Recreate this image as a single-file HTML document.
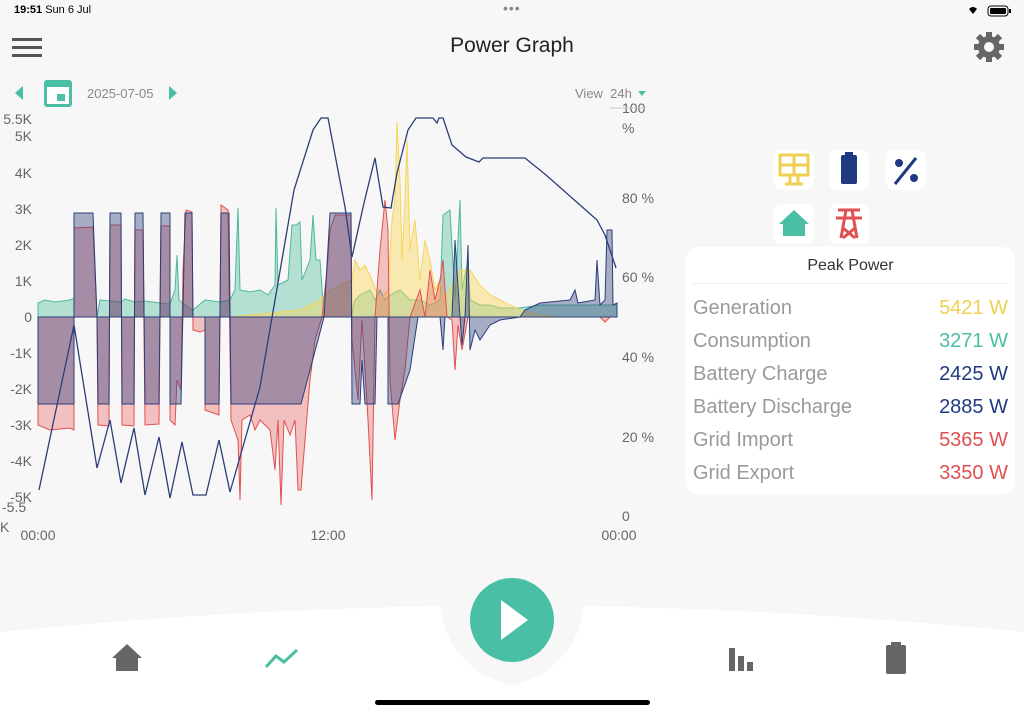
<!DOCTYPE html>
<html><head><meta charset="utf-8"><style>
body{margin:0;width:1024px;height:712px;background:#f7f7f7;font-family:"Liberation Sans",sans-serif;overflow:hidden;position:relative}
.abs{position:absolute}
.card{position:absolute;left:686px;top:247px;width:329px;height:247px;background:#fff;border-radius:12px}
.row{position:absolute;left:7px;right:7px;font-size:20px;color:#9a9a9a;height:28px}
.row span{position:absolute;right:0}
.ic{position:absolute;width:40px;height:40px;background:#fff;border-radius:8px}
</style></head><body>
<div class="abs" style="left:14px;top:4px;font-size:11px;color:#000;font-weight:bold">19:51 <span style="font-weight:normal">Sun 6 Jul</span></div>
<div class="abs" style="left:503px;top:0px;font-size:14px;color:#888;letter-spacing:1px">•••</div>
<svg class="abs" style="left:968px;top:4px" width="46" height="14"><path d="M5 10 L1 5 Q5 1 9 5 Z" fill="#000"/><rect x="20" y="2" width="20" height="10" rx="3" fill="none" stroke="#000"/><rect x="22" y="4" width="16" height="6" rx="1" fill="#000"/><rect x="41" y="5" width="2" height="4" fill="#000"/></svg>
<svg class="abs" style="left:12px;top:37px" width="30" height="22"><rect y="1" width="30" height="3" fill="#555"/><rect y="9" width="30" height="3" fill="#555"/><rect y="17" width="30" height="3" fill="#555"/></svg>
<div class="abs" style="left:0;width:1024px;top:34px;text-align:center;font-size:21px;color:#222">Power Graph</div>
<svg class="abs" style="left:972px;top:30px" width="34" height="34" viewBox="0 0 34 34"><circle cx="17" cy="17" r="11" fill="#666"/><g stroke="#666" stroke-width="6"><line x1="17" y1="2" x2="17" y2="32"/><line x1="2" y1="17" x2="32" y2="17"/><line x1="6" y1="6" x2="28" y2="28"/><line x1="28" y1="6" x2="6" y2="28"/></g><circle cx="17" cy="17" r="5" fill="#f7f7f7"/></svg>
<svg class="abs" style="left:12px;top:76px" width="170" height="34"><path d="M3 17 L11 10 L11 24 Z" fill="#4bbfa5"/><rect x="32" y="4" width="28" height="27" rx="3" fill="#4bbfa5"/><rect x="35" y="11" width="22" height="17" fill="#fff"/><rect x="45" y="18" width="8" height="7" fill="#4bbfa5"/><path d="M157 10 L165 17 L157 24 Z" fill="#4bbfa5"/></svg>
<div class="abs" style="left:87px;top:86px;font-size:13px;color:#888">2025-07-05</div>
<div class="abs" style="left:575px;top:86px;font-size:13px;color:#888">View &nbsp;24h</div>
<svg class="abs" style="left:638px;top:91px" width="10" height="6"><path d="M0 0 L8 0 L4 5 Z" fill="#4bbfa5"/></svg>
<svg class="abs" style="left:0;top:0" width="680" height="550">
<g font-size="14" fill="#666" font-family="Liberation Sans,sans-serif">
<text x="32" y="124" text-anchor="end">5.5K</text><text x="32" y="141" text-anchor="end">5K</text>
<text x="32" y="178" text-anchor="end">4K</text><text x="32" y="214" text-anchor="end">3K</text>
<text x="32" y="250" text-anchor="end">2K</text><text x="32" y="286" text-anchor="end">1K</text>
<text x="32" y="322" text-anchor="end">0</text><text x="32" y="358" text-anchor="end">-1K</text>
<text x="32" y="394" text-anchor="end">-2K</text><text x="32" y="430" text-anchor="end">-3K</text>
<text x="32" y="466" text-anchor="end">-4K</text><text x="32" y="502" text-anchor="end">-5K</text>
<text x="2" y="512">-5.5</text><text x="0" y="532">K</text>
<text x="622" y="113">100</text><text x="622" y="133">%</text>
<text x="622" y="203">80 %</text><text x="622" y="282">60 %</text><text x="622" y="362">40 %</text>
<text x="622" y="442">20 %</text><text x="622" y="521">0</text>
<text x="38" y="540" text-anchor="middle">00:00</text><text x="328" y="540" text-anchor="middle">12:00</text><text x="619" y="540" text-anchor="middle">00:00</text>
</g>
<line x1="610" y1="108" x2="645" y2="108" stroke="#ccc"/>
<path fill="rgba(80,190,160,0.4)" stroke="#4cb89a" stroke-width="1" d="M38,317 L38,303 L45,300 L55,302 L70,300 L74,298 L74,317 L97,317 L100,300 L110,301 L121,302 L125,299 L135,302 L145,301 L160,303 L170,304 L175,290 L177,255 L179,300 L185,305 L193,310 L205,300 L220,302 L230,300 L235,290 L238,208 L240,290 L250,292 L260,290 L268,295 L275,285 L276,208 L278,285 L288,280 L292,225 L296,225 L300,222 L302,280 L310,260 L313,215 L316,260 L320,260 L324,317 L351,317 L355,300 L360,295 L370,290 L375,300 L380,290 L385,300 L390,295 L400,290 L410,300 L420,300 L430,305 L440,300 L443,215 L450,210 L455,300 L460,200 L462,290 L468,260 L470,300 L480,305 L490,305 L500,308 L520,308 L540,305 L560,305 L590,305 L617,305 L617,317 Z"/>
<path fill="rgba(250,215,90,0.45)" stroke="#f5d55a" stroke-width="1" d="M230,317 L260,314 L300,310 L320,300 L330,290 L352,280 L355,260 L360,270 L365,265 L372,280 L380,300 L388,290 L392,220 L395,200 L397,122 L400,180 L402,260 L405,200 L407,140 L410,250 L415,220 L420,280 L425,240 L430,260 L435,290 L440,280 L443,300 L455,280 L460,270 L470,270 L480,285 L490,295 L500,300 L520,310 L540,315 L560,317 Z"/>
<path fill="rgba(235,90,90,0.35)" stroke="#e05050" stroke-width="1" d="M38,317 L38,425 L50,430 L70,428 L74,430 L74,228 L93,227 L97,317 L98,425 L109,426 L110,225 L121,225 L122,425 L134,426 L135,230 L143,230 L145,425 L159,424 L161,226 L170,226 L170,420 L175,425 L177,380 L181,390 L183,270 L186,210 L192,212 L193,330 L200,332 L205,330 L205,410 L219,415 L221,205 L228,210 L231,420 L238,440 L240,500 L242,420 L250,415 L255,430 L260,420 L270,430 L275,470 L278,420 L281,505 L284,420 L290,435 L295,420 L298,490 L301,490 L305,440 L310,380 L315,340 L322,317 L327,270 L330,230 L335,215 L351,215 L352,340 L358,400 L362,320 L368,420 L372,500 L375,317 L380,250 L385,200 L388,230 L390,380 L395,440 L400,400 L405,370 L410,317 L420,290 L425,317 L430,270 L435,300 L440,280 L443,260 L447,317 L452,320 L455,370 L458,325 L462,350 L468,317 L600,317 L605,322 L610,317 L617,317 Z"/>
<path fill="rgba(45,65,125,0.4)" stroke="#2c3e7a" stroke-width="1" d="M38,317 L38,404 L74,404 L74,213 L93,213 L97,317 L98,404 L109,404 L110,213 L121,213 L122,404 L134,404 L135,213 L143,213 L145,404 L159,404 L161,213 L170,213 L170,404 L181,404 L185,213 L192,213 L193,317 L205,317 L205,404 L219,404 L221,213 L229,213 L231,404 L301,404 L310,370 L318,340 L324,317 L330,213 L351,213 L352,404 L360,404 L362,360 L365,404 L375,404 L377,317 L388,317 L388,404 L398,404 L410,370 L416,330 L418,317 L440,317 L443,350 L445,317 L452,317 L455,240 L460,317 L462,345 L465,317 L468,245 L470,350 L475,330 L480,340 L490,325 L500,320 L520,317 L525,310 L540,303 L570,300 L575,290 L578,303 L595,300 L597,260 L600,305 L605,300 L607,230 L612,230 L613,305 L617,303 L617,317 Z"/>
<polyline fill="none" stroke="#2c3e7a" stroke-width="1.3" points="39,490 74,325 97,468 110,420 121,483 134,428 145,495 159,437 170,498 182,442 193,495 206,495 219,440 230,492 260,387 294,190 313,130 321,118 328,118 345,207 352,257 364,203 375,158 383,207 391,208 397,173 408,130 416,118 433,118 437,123 439,118 443,118 452,145 466,157 479,162 483,158 525,158 546,175 580,205 597,220 605,235 616,268"/>
</svg>
<div class="ic" style="left:774px;top:150px"><svg width="40" height="40"><g fill="none" stroke="#f0d050" stroke-width="3"><rect x="6" y="5" width="28" height="20"/><line x1="20" y1="5" x2="20" y2="25"/><line x1="6" y1="15" x2="34" y2="15"/><path d="M16 25 L16 34 M24 25 L24 34 M11 34 L29 34"/></g></svg></div>
<div class="ic" style="left:829px;top:150px"><svg width="40" height="40"><rect x="12" y="5" width="16" height="29" rx="2" fill="#1f3a80"/><rect x="16" y="2" width="8" height="4" fill="#1f3a80"/></svg></div>
<div class="ic" style="left:886px;top:150px"><svg width="40" height="40"><circle cx="13" cy="13" r="4" fill="#1f3a80"/><circle cx="28" cy="28" r="4" fill="#1f3a80"/><line x1="30" y1="8" x2="9" y2="34" stroke="#1f3a80" stroke-width="3"/></svg></div>
<div class="ic" style="left:774px;top:204px"><svg width="40" height="40"><path d="M5 20 L20 6 L35 20 L31 20 L31 32 L9 32 L9 20 Z" fill="#4bbfa5"/></svg></div>
<div class="ic" style="left:829px;top:204px"><svg width="40" height="40"><g stroke="#e05050" stroke-width="3" fill="none"><line x1="9" y1="6" x2="31" y2="6"/><line x1="7" y1="14" x2="33" y2="14"/><path d="M17 6 L12 34 M23 6 L28 34 M14 24 L26 34 M26 24 L14 34"/></g></svg></div>
<div class="card">
<div style="position:absolute;top:10px;width:100%;text-align:center;font-size:16px;color:#333">Peak Power</div>
<div style="position:absolute;top:36px;left:7px;right:7px;height:1px;background:#eee"></div>
<div class="row" style="top:50px">Generation<span style="color:#f0d050">5421 W</span></div>
<div class="row" style="top:83px">Consumption<span style="color:#4bbfa5">3271 W</span></div>
<div class="row" style="top:116px">Battery Charge<span style="color:#1f3a80">2425 W</span></div>
<div class="row" style="top:149px">Battery Discharge<span style="color:#1f3a80">2885 W</span></div>
<div class="row" style="top:182px">Grid Import<span style="color:#e05050">5365 W</span></div>
<div class="row" style="top:215px">Grid Export<span style="color:#e05050">3350 W</span></div>
</div>
<svg class="abs" style="left:0;top:570px" width="1024" height="142">
<path d="M0,62 Q220,40 440,36 Q450,100 512,116 Q574,100 584,36 Q804,40 1024,62 L1024,142 L0,142 Z" fill="#fff"/>
<circle cx="512" cy="50" r="42" fill="#4bbfa5"/>
<path d="M501,30 L528,50 L501,70 Z" fill="#fff"/>
<path d="M112,88 L127,74 L142,88 L138,88 L138,101 L116,101 L116,88 Z" fill="#666"/>
<polyline points="266,97 276,86 284,92 297,80" fill="none" stroke="#4bbfa5" stroke-width="3"/>
<g fill="#666"><rect x="729" y="78" width="6" height="23"/><rect x="738" y="86" width="6" height="15"/><rect x="747" y="92" width="6" height="9"/></g>
<rect x="886" y="75" width="20" height="29" rx="2" fill="#666"/><rect x="891" y="72" width="10" height="4" fill="#666"/>
<rect x="375" y="130" width="275" height="5" rx="2.5" fill="#000"/>
</svg>
</body></html>
